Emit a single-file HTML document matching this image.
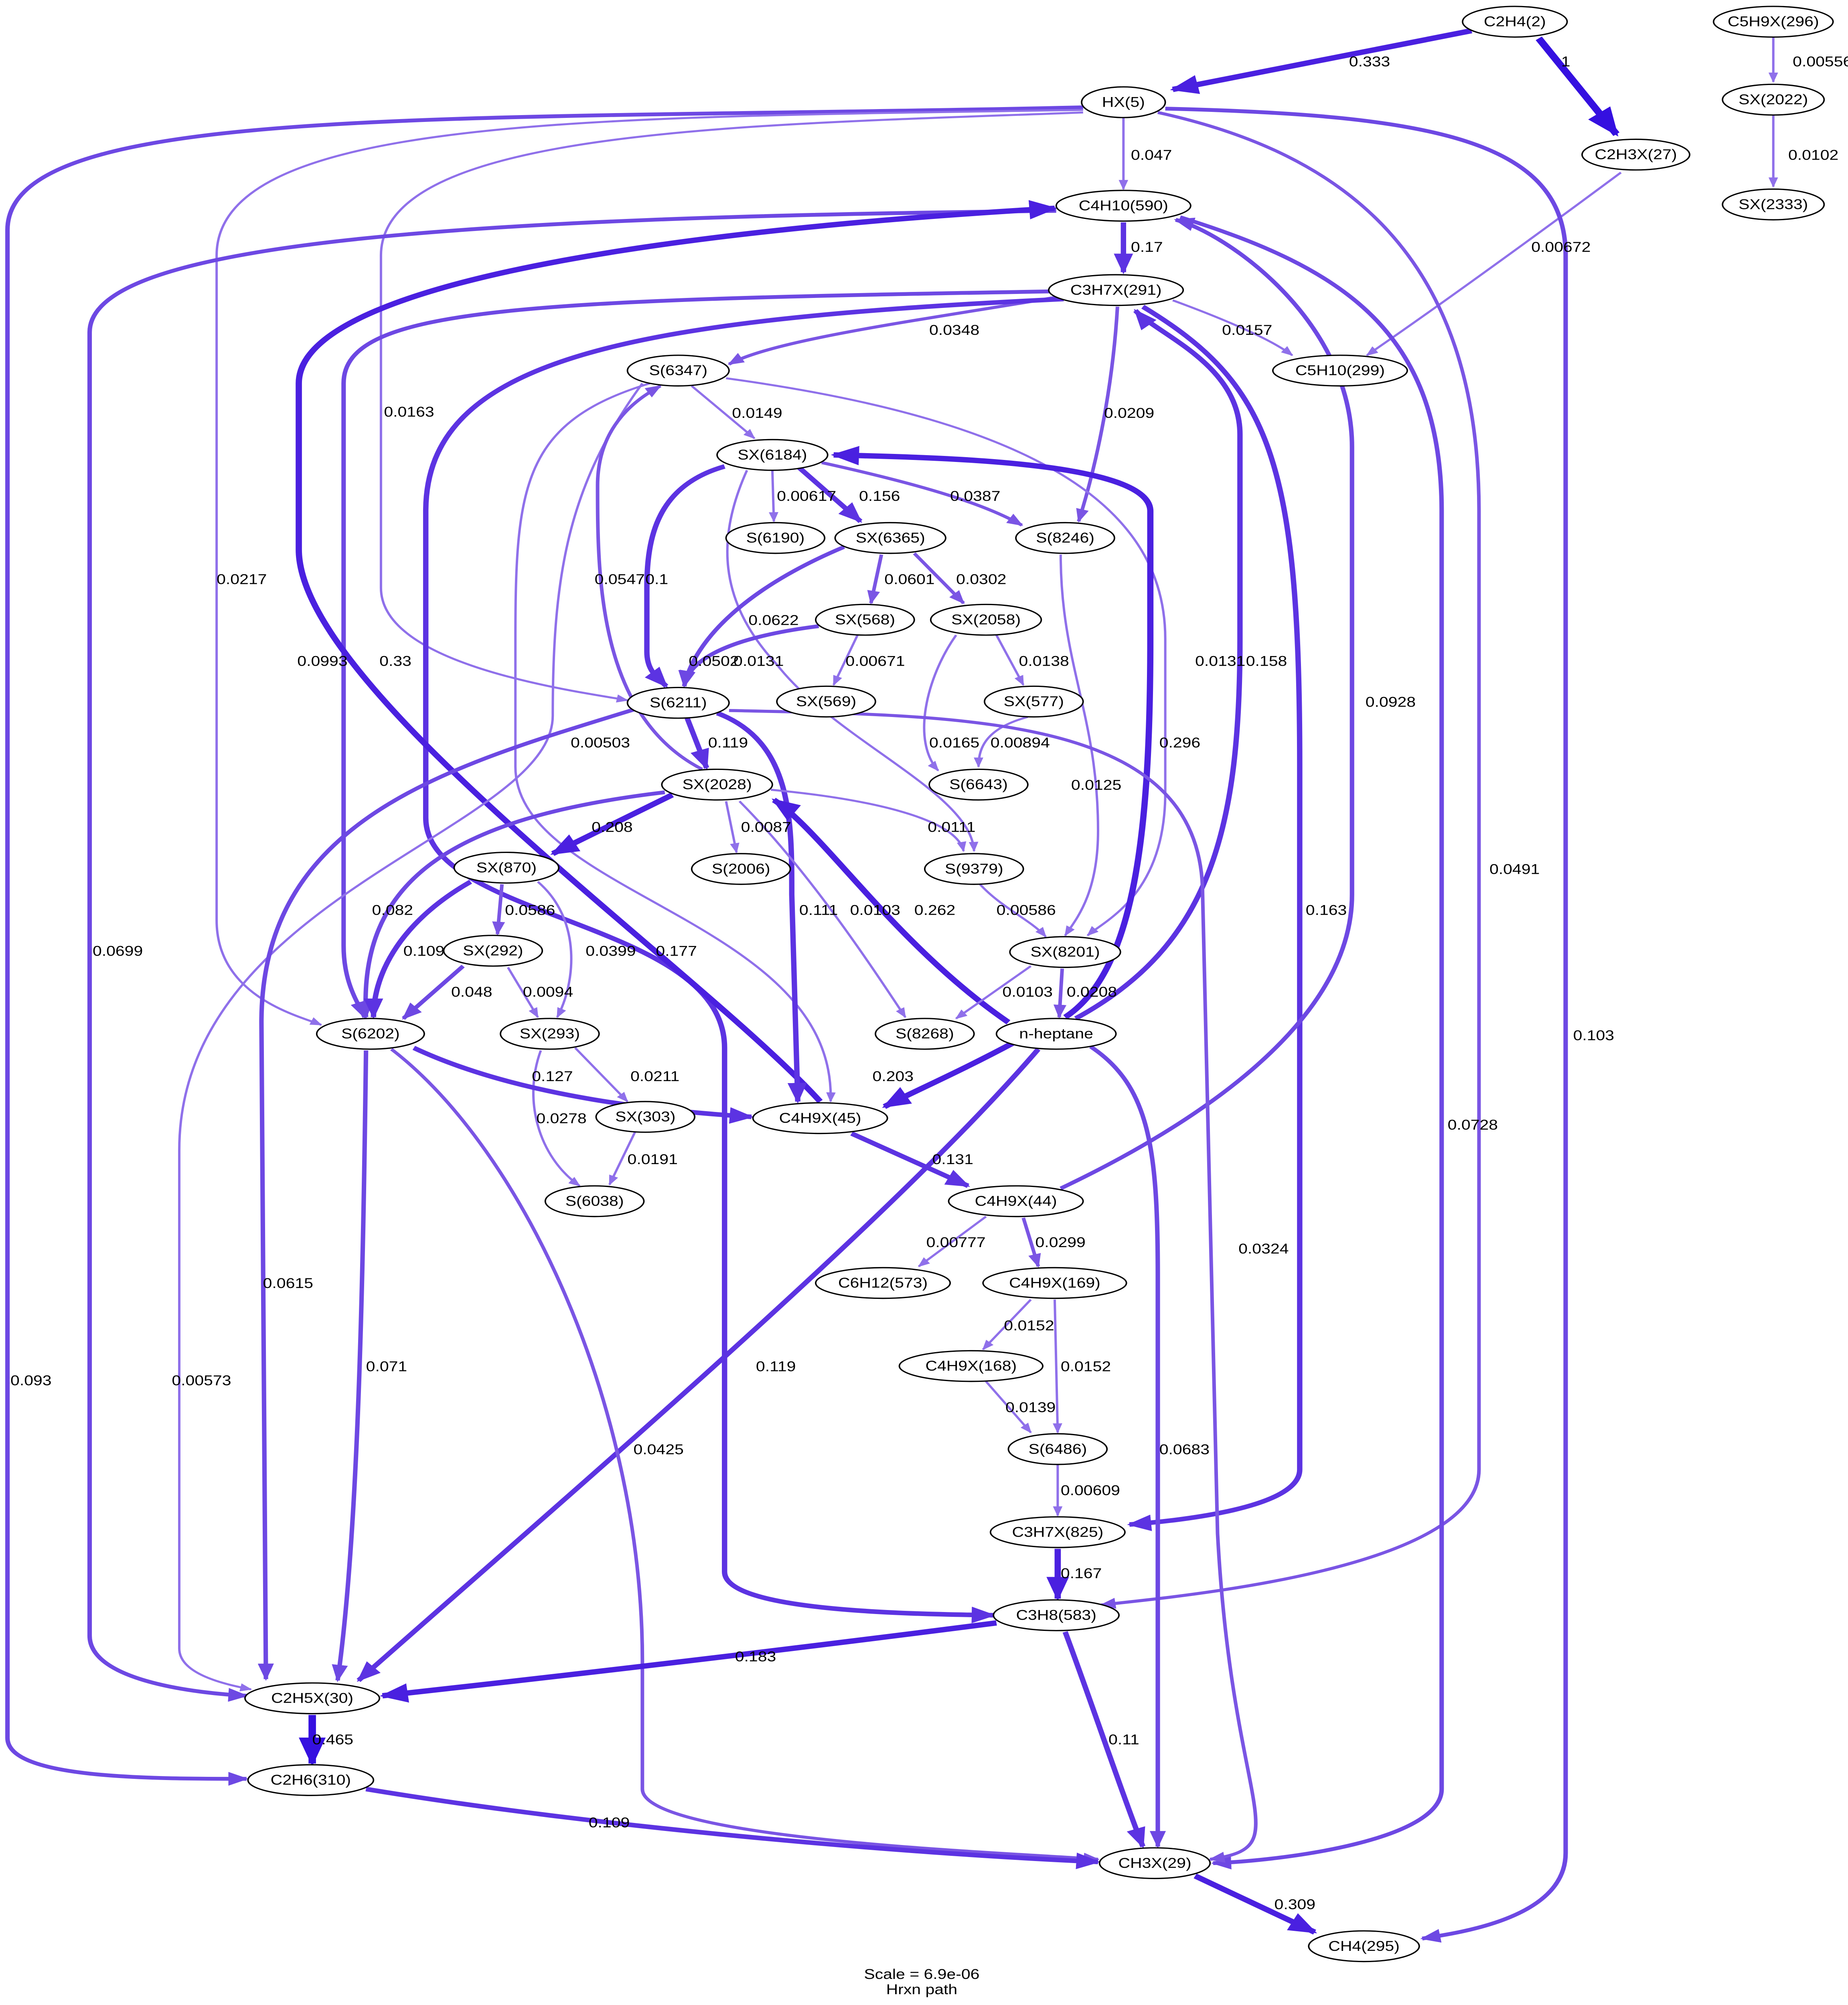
<!DOCTYPE html>
<html><head><meta charset="utf-8"><style>
html,body{margin:0;padding:0;background:#fff;width:100%;height:100%;overflow:hidden;}
svg{display:block;width:100vw;height:100vh;}
text{font-family:"Liberation Sans",Arial,sans-serif;font-size:11px;fill:#000;}
.n{text-anchor:middle;dominant-baseline:central;}
ellipse{fill:#fff;stroke:#000;stroke-width:1;}
path.a,path.b,path.c,path.d,path.e,path.f{fill:none;}
.a{stroke:#8f70ea;stroke-width:1.6;marker-end:url(#ma);}
.b{stroke:#7a55e4;stroke-width:2.4;marker-end:url(#mb);}
.c{stroke:#6d48e3;stroke-width:3;marker-end:url(#mc);}
.d{stroke:#5c33e2;stroke-width:3.6;marker-end:url(#md);}
.e{stroke:#4a20e0;stroke-width:4.2;marker-end:url(#me);}
.f{stroke:#3510e0;stroke-width:5;marker-end:url(#mf);}
</style></head><body>
<svg viewBox="0 0 1237 1569" preserveAspectRatio="none" xmlns="http://www.w3.org/2000/svg">
<defs>
<marker id="ma" viewBox="0 0 10 8" refX="9" refY="4" markerWidth="5" markerHeight="4" orient="auto"><polygon points="0,0 10,4 0,8" fill="#8f70ea"/></marker>
<marker id="mb" viewBox="0 0 10 8" refX="9" refY="4" markerWidth="4.5" markerHeight="3.6" orient="auto"><polygon points="0,0 10,4 0,8" fill="#7a55e4"/></marker>
<marker id="mc" viewBox="0 0 10 8" refX="9" refY="4" markerWidth="4.5" markerHeight="3.6" orient="auto"><polygon points="0,0 10,4 0,8" fill="#6d48e3"/></marker>
<marker id="md" viewBox="0 0 10 8" refX="9" refY="4" markerWidth="4.5" markerHeight="3.6" orient="auto"><polygon points="0,0 10,4 0,8" fill="#5c33e2"/></marker>
<marker id="me" viewBox="0 0 10 8" refX="9" refY="4" markerWidth="4.5" markerHeight="3.6" orient="auto"><polygon points="0,0 10,4 0,8" fill="#4a20e0"/></marker>
<marker id="mf" viewBox="0 0 10 8" refX="9" refY="4" markerWidth="4.5" markerHeight="3.6" orient="auto"><polygon points="0,0 10,4 0,8" fill="#3510e0"/></marker>
</defs>
<rect width="1237" height="1569" fill="#fff"/>
<path class="e" d="M985,24 L785,70"/>
<path class="f" d="M1030,30 L1082,105"/>
<path class="a" d="M1187,29 L1187,64"/>
<path class="a" d="M1187,90 L1187,146"/>
<path class="a" d="M1085,135 C1010,200 950,250 915,278"/>
<path class="a" d="M752,92 L752,148"/>
<path class="c" d="M725,84 C300,95 5,80 5,180 L5,1360 C5,1392 100,1392 165,1392"/>
<path class="a" d="M725,86 C400,92 145,90 145,200 L145,720 C145,780 200,795 215,802"/>
<path class="a" d="M725,88 C500,98 255,100 255,200 L255,460 C255,520 380,540 420,548"/>
<path class="b" d="M775,88 C900,120 990,200 990,400 L990,1150 C990,1230 780,1250 737,1256"/>
<path class="c" d="M780,85 C960,90 1048,110 1048,200 L1048,1450 C1048,1500 980,1512 952,1517"/>
<path class="d" d="M752,174 L752,213"/>
<path class="c" d="M707,165 C300,170 60,190 60,260 L60,1280 C60,1315 130,1325 165,1327"/>
<path class="c" d="M790,170 C900,210 965,260 965,400 L965,1400 C965,1440 860,1456 812,1458"/>
<path class="a" d="M785,235 C820,250 850,265 865,278"/>
<path class="b" d="M710,232 C620,250 520,265 488,285"/>
<path class="b" d="M748,240 C745,300 735,360 722,408"/>
<path class="c" d="M705,228 C350,235 230,240 230,300 L230,740 C230,770 240,785 244,796"/>
<path class="d" d="M712,234 C420,250 285,280 285,400 L285,640 C285,720 485,720 485,820 L485,1230 C485,1260 600,1263 665,1264"/>
<path class="d" d="M765,240 C850,300 870,360 870,600 L870,1150 C870,1180 790,1190 756,1193"/>
<path class="d" d="M720,797 C810,740 830,650 830,500 L830,340 C830,285 775,262 760,243"/>
<path class="e" d="M549,862 C470,760 200,540 200,430 L200,300 C200,200 600,170 706,163"/>
<path class="c" d="M710,930 C800,880 905,800 905,700 L905,350 C905,250 820,182 787,172"/>
<path class="a" d="M463,302 L505,343"/>
<path class="a" d="M486,296 C700,330 780,400 780,500 L780,620 C780,700 740,720 728,732"/>
<path class="a" d="M435,300 C350,330 345,380 345,500 L345,600 C345,700 560,720 556,862"/>
<path class="a" d="M430,300 C380,380 370,450 370,560 C370,650 120,700 120,900 L120,1290 C120,1310 150,1318 168,1322"/>
<path class="b" d="M470,602 C400,560 400,450 400,380 C400,330 430,310 442,302"/>
<path class="a" d="M517,368 L518,408"/>
<path class="d" d="M535,366 L576,408"/>
<path class="b" d="M550,362 C620,380 660,395 684,411"/>
<path class="d" d="M485,365 C440,380 433,420 433,460 L433,510 C433,525 440,530 446,537"/>
<path class="a" d="M500,368 C480,420 480,470 520,520 C560,580 650,620 652,666"/>
<path class="e" d="M713,796 C760,760 770,650 770,500 L770,400 C770,360 620,358 558,356"/>
<path class="b" d="M590,434 L583,472"/>
<path class="b" d="M612,433 L645,472"/>
<path class="c" d="M565,428 C500,460 465,500 458,537"/>
<path class="c" d="M548,490 C480,500 460,520 458,537"/>
<path class="a" d="M574,497 L558,536"/>
<path class="a" d="M667,497 L685,536"/>
<path class="a" d="M640,497 C620,530 610,580 628,603"/>
<path class="a" d="M688,561 C660,570 655,585 655,600"/>
<path class="a" d="M710,434 C710,520 735,560 735,650 C735,700 720,720 713,732"/>
<path class="d" d="M460,562 L473,601"/>
<path class="d" d="M480,558 C530,580 530,640 530,700 L534,862"/>
<path class="c" d="M425,555 C300,600 175,640 175,800 L178,1314"/>
<path class="b" d="M488,556 C650,560 805,560 805,700 L815,1200 C825,1420 870,1445 810,1455"/>
<path class="a" d="M486,627 L493,667"/>
<path class="a" d="M516,618 C580,625 640,640 645,666"/>
<path class="a" d="M495,627 C540,680 580,750 606,796"/>
<path class="e" d="M450,622 L370,668"/>
<path class="c" d="M445,620 C300,640 240,690 245,796"/>
<path class="e" d="M675,800 C600,740 550,650 518,626"/>
<path class="b" d="M336,692 L333,731"/>
<path class="d" d="M315,690 C270,720 250,760 250,796"/>
<path class="a" d="M360,690 C390,720 385,770 373,796"/>
<path class="c" d="M310,756 L270,797"/>
<path class="a" d="M340,757 L360,796"/>
<path class="a" d="M385,820 L420,862"/>
<path class="a" d="M362,822 C350,860 360,905 388,928"/>
<path class="a" d="M425,886 L408,927"/>
<path class="a" d="M690,756 L640,797"/>
<path class="b" d="M711,758 L709,796"/>
<path class="a" d="M656,692 C670,710 690,720 700,733"/>
<path class="e" d="M680,815 C640,840 610,855 592,866"/>
<path class="d" d="M695,821 C600,950 400,1150 240,1315"/>
<path class="c" d="M730,819 C770,850 775,900 775,1000 L775,1445"/>
<path class="d" d="M277,820 C350,860 450,870 503,874"/>
<path class="c" d="M245,822 C243,1000 240,1200 226,1315"/>
<path class="b" d="M262,821 C350,900 430,1100 430,1300 L430,1400 C430,1440 680,1450 735,1455"/>
<path class="d" d="M570,887 L648,928"/>
<path class="a" d="M660,952 L615,991"/>
<path class="b" d="M685,953 L695,991"/>
<path class="a" d="M690,1017 L658,1056"/>
<path class="a" d="M706,1017 L708,1121"/>
<path class="a" d="M660,1081 L690,1121"/>
<path class="a" d="M708,1146 L708,1186"/>
<path class="e" d="M708,1212 L708,1251"/>
<path class="e" d="M667,1270 C500,1295 350,1315 256,1327"/>
<path class="d" d="M713,1277 C730,1330 750,1400 765,1445"/>
<path class="f" d="M209,1342 L209,1380"/>
<path class="d" d="M245,1400 C400,1430 600,1450 735,1457"/>
<path class="e" d="M800,1468 L880,1512"/>
<g>
<text x="903" y="52">0.333</text>
<text x="1045" y="52">1</text>
<text x="1200" y="52">0.00556</text>
<text x="1197" y="125">0.0102</text>
<text x="1025" y="197">0.00672</text>
<text x="757" y="125">0.047</text>
<text x="7" y="1084">0.093</text>
<text x="145" y="457">0.0217</text>
<text x="257" y="326">0.0163</text>
<text x="997" y="684">0.0491</text>
<text x="1053" y="814">0.103</text>
<text x="757" y="197">0.17</text>
<text x="62" y="748">0.0699</text>
<text x="969" y="884">0.0728</text>
<text x="818" y="262">0.0157</text>
<text x="622" y="262">0.0348</text>
<text x="739" y="327">0.0209</text>
<text x="199" y="521">0.0993</text>
<text x="439" y="748">0.177</text>
<text x="874" y="716">0.163</text>
<text x="834" y="521">0.158</text>
<text x="254" y="521">0.33</text>
<text x="914" y="553">0.0928</text>
<text x="490" y="327">0.0149</text>
<text x="800" y="521">0.0131</text>
<text x="382" y="585">0.00503</text>
<text x="115" y="1084">0.00573</text>
<text x="398" y="457">0.0547</text>
<text x="520" y="392">0.00617</text>
<text x="575" y="392">0.156</text>
<text x="636" y="392">0.0387</text>
<text x="432" y="457">0.1</text>
<text x="491" y="521">0.0131</text>
<text x="776" y="585">0.296</text>
<text x="592" y="457">0.0601</text>
<text x="640" y="457">0.0302</text>
<text x="501" y="489">0.0622</text>
<text x="461" y="521">0.0502</text>
<text x="566" y="521">0.00671</text>
<text x="682" y="521">0.0138</text>
<text x="622" y="585">0.0165</text>
<text x="663" y="585">0.00894</text>
<text x="717" y="618">0.0125</text>
<text x="474" y="585">0.119</text>
<text x="535" y="716">0.111</text>
<text x="176" y="1008">0.0615</text>
<text x="829" y="981">0.0324</text>
<text x="496" y="651">0.0087</text>
<text x="621" y="651">0.0111</text>
<text x="569" y="716">0.0103</text>
<text x="396" y="651">0.208</text>
<text x="249" y="716">0.082</text>
<text x="612" y="716">0.262</text>
<text x="338" y="716">0.0586</text>
<text x="270" y="748">0.109</text>
<text x="392" y="748">0.0399</text>
<text x="302" y="780">0.048</text>
<text x="350" y="780">0.0094</text>
<text x="422" y="846">0.0211</text>
<text x="359" y="879">0.0278</text>
<text x="420" y="911">0.0191</text>
<text x="671" y="780">0.0103</text>
<text x="714" y="780">0.0208</text>
<text x="667" y="716">0.00586</text>
<text x="584" y="846">0.203</text>
<text x="506" y="1073">0.119</text>
<text x="776" y="1138">0.0683</text>
<text x="356" y="846">0.127</text>
<text x="245" y="1073">0.071</text>
<text x="424" y="1138">0.0425</text>
<text x="624" y="911">0.131</text>
<text x="620" y="976">0.00777</text>
<text x="693" y="976">0.0299</text>
<text x="672" y="1041">0.0152</text>
<text x="710" y="1073">0.0152</text>
<text x="673" y="1105">0.0139</text>
<text x="710" y="1170">0.00609</text>
<text x="710" y="1235">0.167</text>
<text x="492" y="1300">0.183</text>
<text x="742" y="1365">0.11</text>
<text x="209" y="1365">0.465</text>
<text x="394" y="1430">0.109</text>
<text x="853" y="1494">0.309</text>
</g>
<g>
<ellipse cx="1014" cy="17" rx="35" ry="12"/><text class="n" x="1014" y="17">C2H4(2)</text>
<ellipse cx="1187" cy="17" rx="40" ry="12"/><text class="n" x="1187" y="17">C5H9X(296)</text>
<ellipse cx="752" cy="80" rx="28" ry="12"/><text class="n" x="752" y="80">HX(5)</text>
<ellipse cx="1095" cy="121" rx="36" ry="12"/><text class="n" x="1095" y="121">C2H3X(27)</text>
<ellipse cx="1187" cy="78" rx="34" ry="12"/><text class="n" x="1187" y="78">SX(2022)</text>
<ellipse cx="1187" cy="160" rx="34" ry="12"/><text class="n" x="1187" y="160">SX(2333)</text>
<ellipse cx="752" cy="161" rx="45" ry="12"/><text class="n" x="752" y="161">C4H10(590)</text>
<ellipse cx="747" cy="227" rx="45" ry="12"/><text class="n" x="747" y="227">C3H7X(291)</text>
<ellipse cx="897" cy="290" rx="45" ry="12"/><text class="n" x="897" y="290">C5H10(299)</text>
<ellipse cx="454" cy="290" rx="34" ry="12"/><text class="n" x="454" y="290">S(6347)</text>
<ellipse cx="517" cy="356" rx="37" ry="12"/><text class="n" x="517" y="356">SX(6184)</text>
<ellipse cx="519" cy="421" rx="33" ry="12"/><text class="n" x="519" y="421">S(6190)</text>
<ellipse cx="596" cy="421" rx="37" ry="12"/><text class="n" x="596" y="421">SX(6365)</text>
<ellipse cx="713" cy="421" rx="33" ry="12"/><text class="n" x="713" y="421">S(8246)</text>
<ellipse cx="579" cy="485" rx="33" ry="12"/><text class="n" x="579" y="485">SX(568)</text>
<ellipse cx="660" cy="485" rx="37" ry="12"/><text class="n" x="660" y="485">SX(2058)</text>
<ellipse cx="454" cy="550" rx="34" ry="12"/><text class="n" x="454" y="550">S(6211)</text>
<ellipse cx="553" cy="549" rx="33" ry="12"/><text class="n" x="553" y="549">SX(569)</text>
<ellipse cx="692" cy="549" rx="33" ry="12"/><text class="n" x="692" y="549">SX(577)</text>
<ellipse cx="655" cy="614" rx="33" ry="12"/><text class="n" x="655" y="614">S(6643)</text>
<ellipse cx="480" cy="614" rx="37" ry="12"/><text class="n" x="480" y="614">SX(2028)</text>
<ellipse cx="496" cy="680" rx="33" ry="12"/><text class="n" x="496" y="680">S(2006)</text>
<ellipse cx="652" cy="680" rx="33" ry="12"/><text class="n" x="652" y="680">S(9379)</text>
<ellipse cx="339" cy="679" rx="35" ry="12"/><text class="n" x="339" y="679">SX(870)</text>
<ellipse cx="330" cy="744" rx="33" ry="12"/><text class="n" x="330" y="744">SX(292)</text>
<ellipse cx="713" cy="745" rx="37" ry="12"/><text class="n" x="713" y="745">SX(8201)</text>
<ellipse cx="619" cy="809" rx="33" ry="12"/><text class="n" x="619" y="809">S(8268)</text>
<ellipse cx="707" cy="809" rx="40" ry="12"/><text class="n" x="707" y="809">n-heptane</text>
<ellipse cx="248" cy="809" rx="36" ry="12"/><text class="n" x="248" y="809">S(6202)</text>
<ellipse cx="368" cy="809" rx="33" ry="12"/><text class="n" x="368" y="809">SX(293)</text>
<ellipse cx="432" cy="874" rx="33" ry="12"/><text class="n" x="432" y="874">SX(303)</text>
<ellipse cx="549" cy="875" rx="45" ry="12"/><text class="n" x="549" y="875">C4H9X(45)</text>
<ellipse cx="398" cy="940" rx="33" ry="12"/><text class="n" x="398" y="940">S(6038)</text>
<ellipse cx="680" cy="940" rx="45" ry="12"/><text class="n" x="680" y="940">C4H9X(44)</text>
<ellipse cx="591" cy="1004" rx="45" ry="12"/><text class="n" x="591" y="1004">C6H12(573)</text>
<ellipse cx="706" cy="1004" rx="48" ry="12"/><text class="n" x="706" y="1004">C4H9X(169)</text>
<ellipse cx="650" cy="1069" rx="48" ry="12"/><text class="n" x="650" y="1069">C4H9X(168)</text>
<ellipse cx="708" cy="1134" rx="33" ry="12"/><text class="n" x="708" y="1134">S(6486)</text>
<ellipse cx="708" cy="1199" rx="45" ry="12"/><text class="n" x="708" y="1199">C3H7X(825)</text>
<ellipse cx="707" cy="1264" rx="42" ry="12"/><text class="n" x="707" y="1264">C3H8(583)</text>
<ellipse cx="209" cy="1329" rx="45" ry="12"/><text class="n" x="209" y="1329">C2H5X(30)</text>
<ellipse cx="208" cy="1393" rx="42" ry="12"/><text class="n" x="208" y="1393">C2H6(310)</text>
<ellipse cx="773" cy="1458" rx="37" ry="12"/><text class="n" x="773" y="1458">CH3X(29)</text>
<ellipse cx="913" cy="1523" rx="37" ry="12"/><text class="n" x="913" y="1523">CH4(295)</text>
</g>
<text class="n" x="617" y="1545">Scale = 6.9e-06</text>
<text class="n" x="617" y="1557">Hrxn path</text>
</svg>
</body></html>
